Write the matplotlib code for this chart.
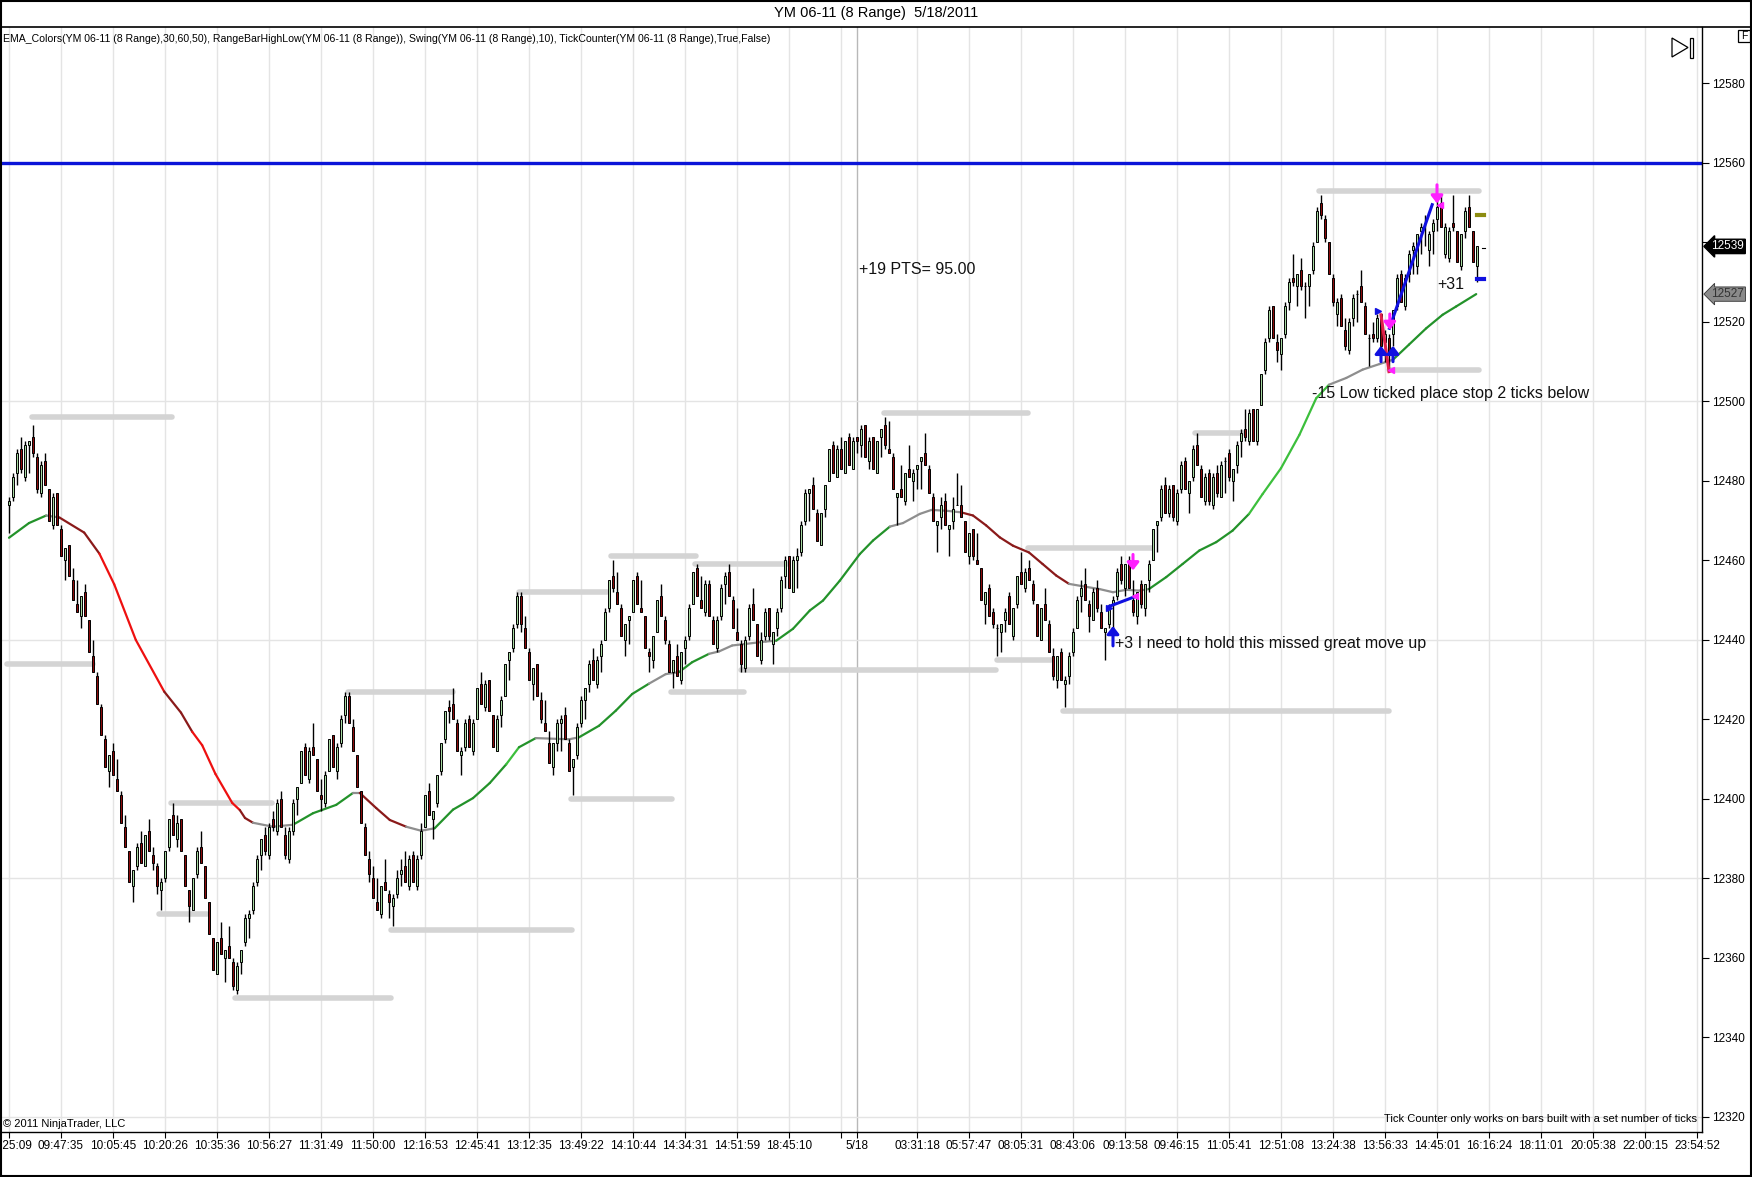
import matplotlib
matplotlib.use("Agg")
from matplotlib import pyplot as plt
from matplotlib.collections import LineCollection
from matplotlib.patches import Rectangle, Polygon
from matplotlib.lines import Line2D

plt.rcParams['font.family'] = ['Liberation Sans', 'DejaVu Sans']

# range bars (8 range), one entry per bar
OPENS = [
    12474, 12476, 12482, 12488, 12481, 12489, 12491, 12486, 12477, 12485,
    12478, 12469, 12477, 12468, 12460, 12464, 12455, 12449, 12446, 12452,
    12445, 12436, 12431, 12423, 12415, 12407, 12412, 12405, 12401, 12393,
    12387, 12378, 12383, 12389, 12383, 12392, 12386, 12383, 12377, 12380,
    12388, 12396, 12390, 12395, 12386, 12377, 12372, 12381, 12388, 12383,
    12374, 12365, 12356, 12365, 12360, 12363, 12359, 12352, 12359, 12364,
    12370, 12372, 12379, 12386, 12391, 12386, 12395, 12392, 12400, 12391,
    12385, 12392, 12400, 12404, 12413, 12405, 12413, 12410, 12401, 12399,
    12407, 12416, 12407, 12414, 12421, 12426, 12418, 12411, 12402, 12393,
    12385, 12380, 12374, 12371, 12379, 12376, 12373, 12376, 12381, 12383,
    12378, 12386, 12378, 12386, 12393, 12402, 12395, 12399, 12407, 12415,
    12423, 12424, 12419, 12411, 12413, 12420, 12412, 12420, 12429, 12423,
    12430, 12421, 12412, 12421, 12426, 12435, 12438, 12444, 12451, 12443,
    12437, 12429, 12434, 12425, 12419, 12414, 12408, 12414, 12419, 12421,
    12414, 12408, 12411, 12419, 12425, 12429, 12435, 12429, 12436, 12440,
    12448, 12456, 12452, 12448, 12440, 12445, 12447, 12456, 12448, 12446,
    12437, 12435, 12442, 12451, 12445, 12439, 12432, 12436, 12430, 12438,
    12441, 12449, 12458, 12450, 12447, 12454, 12445, 12438, 12446, 12454,
    12457, 12450, 12442, 12439, 12433, 12441, 12449, 12444, 12435, 12441,
    12448, 12439, 12443, 12448, 12456, 12461, 12452, 12460, 12462, 12470,
    12477, 12479, 12472, 12464, 12473, 12480, 12489, 12481, 12488, 12482,
    12491, 12483, 12491, 12489, 12494, 12485, 12491, 12482, 12491, 12494,
    12488, 12486, 12476, 12478, 12475, 12483, 12480, 12483, 12485, 12487,
    12483, 12476, 12469, 12471, 12475, 12468, 12470, 12474, 12474, 12470,
    12461, 12468, 12460, 12458, 12449, 12453, 12447, 12443, 12442, 12445,
    12451, 12441, 12449, 12457, 12453, 12458, 12454, 12449, 12440, 12449,
    12444, 12436, 12430, 12437, 12429, 12431, 12437, 12443, 12451, 12454,
    12449, 12445, 12453, 12447, 12442, 12444, 12449, 12451, 12459, 12453,
    12460, 12450, 12446, 12454, 12448, 12455, 12460, 12469, 12471, 12479,
    12472, 12479, 12470, 12478, 12485, 12477, 12481, 12489, 12483, 12475,
    12482, 12474, 12482, 12476, 12485, 12487, 12480, 12484, 12490, 12493,
    12490, 12498, 12490, 12499, 12508, 12516, 12524, 12515, 12512, 12517,
    12525, 12531, 12529, 12533, 12529, 12529, 12533, 12540, 12550, 12546,
    12540, 12531, 12522, 12526, 12518, 12513, 12521, 12527, 12529, 12524,
    12516, 12517, 12516, 12522, 12515, 12516, 12517, 12524, 12532, 12524,
    12532, 12538, 12534, 12543, 12545, 12538, 12543, 12546, 12550, 12537,
    12536, 12545, 12543, 12534, 12543, 12549, 12543, 12534,
]
CLOSES = [
    12475, 12481, 12487, 12483, 12489, 12490, 12487, 12478, 12484, 12479,
    12470, 12476, 12469, 12461, 12463, 12456, 12450, 12447, 12451, 12446,
    12437, 12432, 12424, 12416, 12408, 12411, 12406, 12402, 12394, 12388,
    12379, 12382, 12388, 12384, 12391, 12387, 12384, 12378, 12379, 12387,
    12395, 12391, 12394, 12387, 12378, 12373, 12380, 12387, 12384, 12375,
    12366, 12357, 12364, 12361, 12362, 12360, 12353, 12358, 12362, 12370,
    12371, 12378, 12385, 12390, 12387, 12393, 12393, 12399, 12393, 12386,
    12392, 12399, 12403, 12412, 12406, 12412, 12411, 12402, 12400, 12406,
    12415, 12408, 12413, 12420, 12426, 12419, 12412, 12403, 12394, 12386,
    12381, 12375, 12372, 12378, 12377, 12374, 12375, 12380, 12382, 12379,
    12385, 12379, 12385, 12392, 12401, 12396, 12397, 12406, 12414, 12422,
    12422, 12420, 12412, 12412, 12419, 12413, 12419, 12428, 12424, 12429,
    12422, 12413, 12420, 12425, 12434, 12437, 12443, 12451, 12444, 12438,
    12430, 12433, 12426, 12420, 12417, 12409, 12414, 12419, 12420, 12415,
    12407, 12410, 12418, 12425, 12428, 12434, 12430, 12435, 12439, 12447,
    12455, 12453, 12449, 12441, 12444, 12446, 12455, 12449, 12447, 12438,
    12436, 12441, 12450, 12446, 12440, 12432, 12435, 12431, 12437, 12440,
    12448, 12457, 12451, 12448, 12454, 12446, 12439, 12445, 12453, 12456,
    12451, 12443, 12440, 12434, 12440, 12448, 12445, 12436, 12440, 12447,
    12441, 12442, 12447, 12455, 12460, 12453, 12460, 12461, 12469, 12477,
    12478, 12473, 12465, 12472, 12479, 12488, 12482, 12488, 12483, 12490,
    12484, 12490, 12490, 12493, 12486, 12490, 12483, 12490, 12493, 12489,
    12487, 12478, 12477, 12476, 12482, 12481, 12482, 12484, 12486, 12484,
    12477, 12470, 12470, 12474, 12469, 12469, 12473, 12474, 12471, 12462,
    12467, 12461, 12459, 12450, 12452, 12446, 12444, 12443, 12444, 12447,
    12444, 12448, 12456, 12454, 12457, 12455, 12450, 12441, 12448, 12445,
    12437, 12431, 12436, 12430, 12430, 12436, 12442, 12450, 12453, 12450,
    12446, 12452, 12448, 12443, 12443, 12448, 12450, 12457, 12455, 12459,
    12453, 12447, 12452, 12449, 12454, 12459, 12468, 12470, 12478, 12472,
    12478, 12471, 12477, 12484, 12478, 12480, 12488, 12484, 12476, 12481,
    12475, 12481, 12477, 12484, 12485, 12481, 12483, 12489, 12492, 12491,
    12497, 12490, 12498, 12507, 12515, 12523, 12516, 12513, 12516, 12524,
    12530, 12530, 12532, 12529, 12529, 12532, 12539, 12548, 12547, 12541,
    12532, 12525, 12525, 12519, 12514, 12520, 12526, 12527, 12525, 12517,
    12516, 12516, 12521, 12514, 12517, 12512, 12523, 12531, 12525, 12531,
    12537, 12539, 12542, 12544, 12545, 12542, 12545, 12549, 12544, 12544,
    12543, 12544, 12535, 12542, 12548, 12544, 12535, 12539,
]
HIGHS = [
    12476, 12482, 12488, 12491, 12490, 12490, 12494, 12487, 12485, 12487,
    12478, 12477, 12477, 12469, 12463, 12464, 12458, 12455, 12451, 12454,
    12445, 12440, 12432, 12424, 12416, 12411, 12414, 12410, 12402, 12396,
    12387, 12382, 12389, 12392, 12391, 12395, 12388, 12384, 12380, 12387,
    12395, 12399, 12396, 12395, 12386, 12377, 12380, 12388, 12392, 12383,
    12374, 12365, 12364, 12369, 12362, 12368, 12360, 12359, 12362, 12371,
    12372, 12379, 12386, 12390, 12393, 12394, 12397, 12400, 12402, 12393,
    12393, 12400, 12403, 12412, 12414, 12413, 12419, 12410, 12405, 12407,
    12415, 12416, 12414, 12421, 12427, 12427, 12420, 12411, 12402, 12394,
    12387, 12383, 12380, 12378, 12385, 12377, 12376, 12382, 12385, 12387,
    12386, 12387, 12386, 12394, 12401, 12404, 12397, 12406, 12414, 12422,
    12425, 12428, 12420, 12413, 12420, 12421, 12420, 12428, 12432, 12430,
    12430, 12421, 12421, 12426, 12434, 12437, 12444, 12452, 12452, 12446,
    12438, 12433, 12434, 12427, 12425, 12417, 12414, 12420, 12421, 12423,
    12415, 12410, 12419, 12426, 12428, 12435, 12438, 12436, 12440, 12448,
    12455, 12460, 12457, 12449, 12444, 12446, 12455, 12457, 12455, 12446,
    12438, 12441, 12450, 12454, 12446, 12440, 12435, 12439, 12437, 12441,
    12449, 12457, 12459, 12456, 12455, 12455, 12446, 12446, 12454, 12457,
    12459, 12451, 12448, 12440, 12441, 12449, 12453, 12444, 12442, 12448,
    12448, 12442, 12448, 12456, 12461, 12461, 12461, 12463, 12470, 12478,
    12478, 12481, 12473, 12472, 12479, 12488, 12490, 12489, 12491, 12490,
    12492, 12491, 12491, 12494, 12494, 12491, 12491, 12490, 12493, 12496,
    12495, 12487, 12477, 12484, 12482, 12489, 12483, 12484, 12486, 12492,
    12484, 12477, 12470, 12476, 12477, 12469, 12476, 12482, 12479, 12470,
    12467, 12468, 12467, 12458, 12452, 12454, 12448, 12444, 12444, 12448,
    12452, 12448, 12456, 12462, 12458, 12460, 12455, 12449, 12448, 12453,
    12445, 12438, 12436, 12438, 12431, 12437, 12443, 12451, 12455, 12458,
    12450, 12453, 12455, 12449, 12443, 12449, 12451, 12458, 12461, 12459,
    12461, 12455, 12452, 12455, 12454, 12460, 12468, 12470, 12479, 12481,
    12479, 12479, 12478, 12485, 12486, 12480, 12489, 12492, 12484, 12482,
    12483, 12482, 12484, 12485, 12486, 12488, 12483, 12490, 12493, 12498,
    12498, 12498, 12498, 12507, 12516, 12524, 12524, 12517, 12516, 12525,
    12531, 12537, 12532, 12536, 12530, 12532, 12540, 12549, 12552, 12547,
    12540, 12532, 12526, 12527, 12521, 12521, 12527, 12528, 12533, 12525,
    12517, 12520, 12522, 12522, 12518, 12517, 12523, 12532, 12533, 12532,
    12538, 12540, 12542, 12545, 12547, 12543, 12546, 12551, 12552, 12545,
    12544, 12552, 12543, 12542, 12549, 12552, 12543, 12539,
]
LOWS = [
    12467, 12475, 12479, 12482, 12480, 12482, 12486, 12477, 12476, 12479,
    12470, 12468, 12469, 12461, 12455, 12456, 12450, 12447, 12443, 12446,
    12437, 12432, 12424, 12416, 12408, 12403, 12406, 12402, 12394, 12388,
    12379, 12374, 12382, 12384, 12383, 12387, 12382, 12376, 12372, 12379,
    12387, 12391, 12388, 12387, 12378, 12369, 12372, 12380, 12384, 12375,
    12366, 12357, 12356, 12361, 12354, 12360, 12352, 12351, 12356, 12363,
    12365, 12371, 12378, 12382, 12386, 12385, 12392, 12391, 12393, 12385,
    12384, 12391, 12396, 12404, 12406, 12404, 12411, 12402, 12397, 12398,
    12407, 12408, 12405, 12413, 12419, 12419, 12412, 12403, 12394, 12386,
    12379, 12375, 12372, 12370, 12377, 12370, 12368, 12375, 12378, 12379,
    12377, 12379, 12377, 12385, 12393, 12396, 12390, 12398, 12406, 12414,
    12419, 12420, 12412, 12406, 12412, 12413, 12411, 12420, 12424, 12422,
    12422, 12413, 12412, 12418, 12426, 12430, 12437, 12443, 12442, 12438,
    12430, 12425, 12426, 12419, 12417, 12409, 12406, 12412, 12412, 12415,
    12407, 12401, 12410, 12418, 12420, 12427, 12430, 12428, 12432, 12440,
    12447, 12452, 12449, 12441, 12436, 12439, 12447, 12449, 12447, 12438,
    12432, 12433, 12442, 12446, 12439, 12432, 12428, 12431, 12429, 12434,
    12440, 12449, 12451, 12448, 12446, 12446, 12439, 12437, 12445, 12449,
    12451, 12443, 12440, 12432, 12432, 12440, 12445, 12436, 12434, 12440,
    12440, 12434, 12441, 12447, 12453, 12453, 12452, 12453, 12461, 12469,
    12470, 12473, 12465, 12464, 12471, 12480, 12482, 12481, 12483, 12482,
    12484, 12483, 12487, 12486, 12486, 12483, 12483, 12482, 12486, 12488,
    12487, 12478, 12469, 12476, 12474, 12481, 12475, 12478, 12478, 12484,
    12477, 12470, 12462, 12468, 12469, 12461, 12468, 12474, 12471, 12462,
    12459, 12460, 12459, 12450, 12444, 12446, 12443, 12436, 12437, 12442,
    12444, 12440, 12448, 12454, 12452, 12455, 12449, 12441, 12440, 12445,
    12437, 12430, 12428, 12430, 12423, 12429, 12436, 12443, 12447, 12450,
    12442, 12445, 12447, 12443, 12435, 12443, 12443, 12450, 12454, 12451,
    12453, 12446, 12444, 12448, 12446, 12452, 12460, 12462, 12470, 12472,
    12471, 12470, 12469, 12477, 12478, 12472, 12480, 12484, 12476, 12474,
    12474, 12473, 12476, 12476, 12477, 12480, 12475, 12482, 12486, 12490,
    12489, 12490, 12489, 12499, 12507, 12515, 12516, 12510, 12508, 12516,
    12523, 12529, 12524, 12528, 12521, 12524, 12532, 12540, 12546, 12540,
    12532, 12524, 12519, 12519, 12513, 12512, 12519, 12520, 12525, 12517,
    12509, 12515, 12515, 12514, 12510, 12508, 12514, 12523, 12525, 12523,
    12530, 12532, 12532, 12537, 12539, 12534, 12537, 12543, 12544, 12536,
    12535, 12543, 12535, 12533, 12541, 12544, 12535, 12530,
]

# swing high / low levels (price, first bar, last bar)
SWING_PRICE = [12496, 12434, 12399, 12371, 12350, 12427, 12367, 12452, 12461, 12459,
               12427, 12432.5, 12400, 12497, 12435, 12463, 12422, 12492, 12553, 12508]
SWING_FROM = [5.8, -0.5, 40.6, 37.5, 56.5, 84.8, 95.6, 127.5, 150.4, 171.5,
              165.4, 183, 140.4, 218.7, 247, 254.7, 263.6, 296.6, 327.6, 345]
SWING_TO = [40.8, 21, 65.7, 49.5, 95.5, 111, 140.7, 149.6, 171.7, 194.5,
            183.8, 246.7, 165.7, 254.7, 260.5, 285.8, 345, 308.8, 367.6, 367.6]

# EMA_Colors line (bar, price, colour of the next piece)
EMA_X = [0, 5, 9.3, 12.6, 18.8, 22.6, 26.3, 31.7, 38.8, 43, 45.8, 48.3, 51.6, 55.8, 57.7,
         59, 61, 66, 71, 76, 81.8, 86, 87.7, 91.8, 95.2, 99.3, 103, 106.4, 111, 116,
         120.2, 124.3, 127.5, 131.7, 140, 142.5, 147.5, 151.7, 155.8, 160, 164.2, 167.5,
         170.8, 175, 177.5, 180.8, 184.2, 189.2, 191.8, 196, 200.2, 203.5, 207.7, 212.7,
         216, 220.2, 223.5, 227.7, 230.6, 234.3, 238, 241, 244.3, 247.7, 251, 255, 258.4,
         261.8, 265, 269, 272.6, 276, 279.3, 282.6, 285, 289.3, 293.4, 297.6, 301.8, 305.9,
         310, 313.4, 318, 322.6, 326.8, 330, 334.3, 338.4, 342.6, 346, 350, 354.3, 358.4,
         361.8, 366.8]
EMA_Y = [12465.7, 12469.4, 12471.3, 12470.8, 12467, 12461.7, 12454, 12440, 12427, 12421.7,
         12416.9, 12413.5, 12406.3, 12399, 12397.2, 12395.2, 12394, 12393, 12393.5, 12396.4,
         12398.5, 12401.5, 12401.5, 12397.7, 12394.7, 12393, 12392, 12392.6, 12397.3, 12400.2,
         12404, 12408.7, 12413, 12415.3, 12415, 12415.5, 12418.4, 12422.2, 12426.4, 12429,
         12431.4, 12431.9, 12434.4, 12436.5, 12437.1, 12438.6, 12439, 12439.6, 12439.8,
         12442.8, 12447.4, 12449.9, 12454.9, 12461.6, 12465, 12468.5, 12469.4, 12471.7,
         12472.7, 12472.5, 12472.1, 12471.3, 12468.8, 12465.8, 12463.7, 12462, 12459.1,
         12456.2, 12454.1, 12453.4, 12452.8, 12452, 12452.6, 12452.4, 12452.8, 12455.8,
         12459.1, 12462.5, 12464.6, 12467.5, 12471.7, 12476.7, 12483.2, 12491.6, 12500.8,
         12504.2, 12505.9, 12508, 12509.4, 12510.5, 12514.3, 12518.4, 12521.8, 12523.9, 12527]
EMA_COLOR = list("ggnddrrrddrrrrddnnggg" "nddd" "nnggggLg" "nnggggnnggnnnnnggggggg"
                 "nnnnnddddddddnnnnnnggggggLLLLLnnnnggggg")

X_TICKS = [0, 13, 26, 39, 52, 65, 78, 91, 104, 117, 130, 143, 156, 169, 182, 195, 208, 212,
           227, 240, 253, 266, 279, 292, 305, 318, 331, 344, 357, 370, 383, 396, 409, 422]
X_LABELS = ["09:25:09", "09:47:35", "10:05:45", "10:20:26", "10:35:36", "10:56:27",
            "11:31:49", "11:50:00", "12:16:53", "12:45:41", "13:12:35", "13:49:22",
            "14:10:44", "14:34:31", "14:51:59", "18:45:10", "", "5/18", "03:31:18",
            "05:57:47", "08:05:31", "08:43:06", "09:13:58", "09:46:15", "11:05:41",
            "12:51:08", "13:24:38", "13:56:33", "14:45:01", "16:16:24", "18:11:01",
            "20:05:38", "22:00:15", "23:54:52"]
Y_TICKS = list(range(12320, 12581, 20))
Y_HIDDEN = [12540]   # covered by the last price tag
Y_GRID = [12320, 12380, 12440, 12500, 12560]

# trade marks near the right end
BUY_ARROWS = [(276, 12438.5, 12443.5), (343, 12510, 12514), (346, 12510, 12514)]
SELL_ARROWS = [(281, 12461.5, 12457.5), (345.2, 12522, 12518), (357, 12554.5, 12549.8)]
TRADE_LINES = [((275.2, 281), (12448.5, 12450.7), '#1010e0'),
               ((343, 345), (12521.8, 12507.5), '#e0204a'),
               ((345.1, 355.8), (12518.4, 12549.5), '#1010e0')]
ENTRY_MARKS = [(275, 12448), (342.2, 12522.8)]
EXIT_MARKS = [(281.4, 12451), (345.6, 12508), (357.7, 12549.5)]

W, H = 1752, 1177
fig = plt.figure(figsize=(W / 100, H / 100), dpi=100)
ax = fig.add_axes([0, 45 / H, 1702 / W, (1132 - 27) / H])
ax.set_xlim(-2.25, 423.25)
ax.set_ylim(12316.2, 12594.2)

# grid
for t in X_TICKS:
    ax.axvline(t, color='#b8b8b8' if t == 212 else '#e4e4e4', lw=1, zorder=0)
for g in Y_GRID:
    ax.axhline(g, color='#e4e4e4', lw=1, zorder=0)

# swing levels
for p, a, b in zip(SWING_PRICE, SWING_FROM, SWING_TO):
    ax.plot([a, b], [p, p], color='#d4d4d4', lw=4, solid_capstyle='round', zorder=1)

# blue line at 12560
ax.axhline(12560, color='#0a14d8', lw=2.4, zorder=2)

# ema
cmap = {'g': '#23922a', 'L': '#3cbf3c', 'n': '#8e8e8e', 'd': '#8a1a1a', 'r': '#ee1010'}
segs = [[(EMA_X[i], EMA_Y[i]), (EMA_X[i + 1], EMA_Y[i + 1])] for i in range(len(EMA_X) - 1)]
cols = [cmap[EMA_COLOR[min(i, len(EMA_COLOR) - 1)]] for i in range(len(segs))]
ax.add_collection(LineCollection(segs, colors=cols, linewidths=1.6, zorder=2, capstyle='round'))

# candles
xs = list(range(len(CLOSES)))
ax.vlines(xs, LOWS, HIGHS, color='black', lw=1, zorder=3)
up = [c >= o for o, c in zip(OPENS, CLOSES)]
ax.bar(xs, [c - o for o, c in zip(OPENS, CLOSES)], bottom=OPENS, width=0.72,
       color=['#a6d8a0' if u else '#8b0a0a' for u in up], edgecolor='black',
       linewidth=0.7, zorder=4)

# trades
for x, y, col in TRADE_LINES:
    ax.plot(x, y, color=col, lw=2.2, zorder=5)
for x, y0, y1 in BUY_ARROWS:
    ax.annotate('', xy=(x, y1), xytext=(x, y0), zorder=6,
                arrowprops=dict(arrowstyle='-|>,head_width=0.35,head_length=0.45',
                                color='#1010e0', lw=2.2, shrinkA=0, shrinkB=0))
for x, y0, y1 in SELL_ARROWS:
    ax.annotate('', xy=(x, y1), xytext=(x, y0), zorder=6,
                arrowprops=dict(arrowstyle='-|>,head_width=0.35,head_length=0.45',
                                color='#ff20ff', lw=2.2, shrinkA=0, shrinkB=0))
for x, y in ENTRY_MARKS:
    ax.plot(x, y, marker='>', color='#1010e0', ms=5, zorder=6)
for x, y in EXIT_MARKS:
    ax.plot(x, y, marker='<', color='#ff20ff', ms=5, zorder=6)

# current bar high/low projections
ax.plot([367, 368.7], [12547, 12547], color='#8c8c10', lw=3, zorder=5)
ax.plot([367, 368.7], [12530.8, 12530.8], color='#1010e0', lw=3, zorder=5)
ax.plot([368.2, 368.9], [12538.7, 12538.7], color='black', lw=0.8, zorder=5)

# notes
note = dict(fontsize=11.5, color='#111111', va='center', ha='left', zorder=7)
ax.text(212.5, 12533.3, '+19 PTS= 95.00', **note)
ax.text(357, 12529.3, '+31', **note)
ax.text(325.7, 12502, '-15 Low ticked place stop 2 ticks below', **note)
ax.text(276.6, 12439, '+3 I need to hold this missed great move up', **note)

# axes styling
for s in ['left', 'top']:
    ax.spines[s].set_visible(False)
ax.spines['right'].set_linewidth(1)
ax.spines['bottom'].set_linewidth(1)
ax.yaxis.tick_right()
ax.set_yticks(Y_TICKS)
ax.set_yticklabels(['' if v in Y_HIDDEN else str(v) for v in Y_TICKS])
ax.set_xticks(X_TICKS)
ax.set_xticklabels(X_LABELS)
ax.tick_params(axis='y', direction='out', length=5, width=0.8, pad=2, labelsize=8.5)
ax.tick_params(axis='x', direction='out', length=4, width=0.8, pad=2, labelsize=8.5)

# price tags on the axis
ax.text(1.0055, 12539, '12539', transform=ax.get_yaxis_transform(), fontsize=8.5,
        color='white', va='center', ha='left',
        bbox=dict(boxstyle='larrow,pad=0.1', fc='black', ec='black'))
ax.text(1.0055, 12527, '12527', transform=ax.get_yaxis_transform(), fontsize=8.5,
        color='#333333', va='center', ha='left',
        bbox=dict(boxstyle='larrow,pad=0.1', fc='#8a8a8a', ec='#333333', lw=0.6))

# frame, header and footer texts
fig.add_artist(Rectangle((0.0005, 0.0005), 0.999, 0.999, transform=fig.transFigure,
                         fill=False, ec='black', lw=1.5))
fig.add_artist(Line2D([0, 1], [1 - 27 / H, 1 - 27 / H], transform=fig.transFigure,
                      color='black', lw=1.2))
fig.text(876 / W, 1 - 13 / H, 'YM 06-11 (8 Range)  5/18/2011', ha='center', va='center',
         fontsize=10.5)
fig.text(3 / W, 1 - 39 / H,
         'EMA_Colors(YM 06-11 (8 Range),30,60,50), RangeBarHighLow(YM 06-11 (8 Range)), '
         'Swing(YM 06-11 (8 Range),10), TickCounter(YM 06-11 (8 Range),True,False)',
         ha='left', va='center', fontsize=7.6)
fig.text(3 / W, 1 - 1124 / H, '\u00a9 2011 NinjaTrader, LLC', ha='left', va='center',
         fontsize=8)
fig.text(1697 / W, 1 - 1119 / H,
         'Tick Counter only works on bars built with a set number of ticks',
         ha='right', va='center', fontsize=8)
fig.add_artist(Rectangle((1738 / W, 1 - 42 / H), 12 / W, 12 / H, fill=True, fc='white',
                         ec='black', lw=0.9, transform=fig.transFigure))
fig.text(1744 / W, 1 - 36 / H, 'F', ha='center', va='center', fontsize=7.5)

# "go to last bar" icon
tri = [(1672 / W, 1 - 38 / H), (1672 / W, 1 - 57 / H), (1688 / W, 1 - 47.5 / H)]
fig.add_artist(Polygon(tri, closed=True, fill=False, ec='black', lw=0.9,
                       transform=fig.transFigure))
fig.add_artist(Rectangle((1689.5 / W, 1 - 58 / H), 3.5 / W, 20 / H, fill=False,
                         ec='black', lw=0.9, transform=fig.transFigure))

fig.savefig('out.png', dpi=100)
